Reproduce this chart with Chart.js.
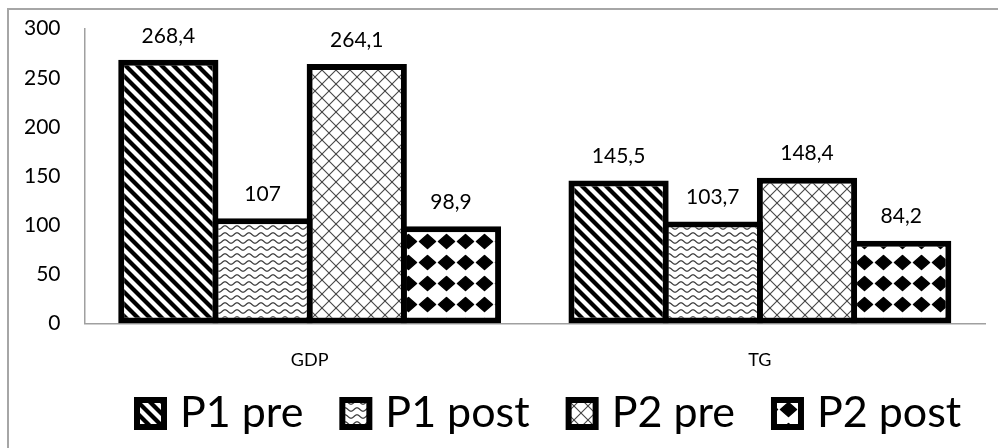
<!DOCTYPE html>
<html>
<head>
<meta charset="utf-8">
<script src="https://cdn.jsdelivr.net/npm/chart.js@4.4.0/dist/chart.umd.min.js"></script>
<style>
  html, body { margin: 0; padding: 0; background: #fff; }
  canvas { display: block; }
</style>
</head>
<body>
<canvas id="chart" width="998" height="448"></canvas>
<script>
// Categories, series and axis ticks
const categories = ['GDP', 'TG'];
const seriesNames = ['P1 pre', 'P1 post', 'P2 pre', 'P2 post'];
const p1Pre  = [268.4, 145.5];
const p1Post = [107, 103.7];
const p2Pre  = [264.1, 148.4];
const p2Post = [98.9, 84.2];
const yTicks = [0, 50, 100, 150, 200, 250, 300];

const FONT = 'Lato, "Open Sans", sans-serif';

// Monochrome fill patterns built from small repeating tiles
function makePattern(w, h, paint) {
  const tile = document.createElement('canvas');
  tile.width = w; tile.height = h;
  const g = tile.getContext('2d');
  g.fillStyle = '#fff';
  g.fillRect(0, 0, w, h);
  paint(g, w, h);
  return document.createElement('canvas').getContext('2d').createPattern(tile, 'repeat');
}

const stripeFill = makePattern(12, 12, (g, w, h) => {
  g.strokeStyle = '#000';
  g.lineWidth = 4.2;
  for (let k = -1; k <= 1; k++) {
    g.beginPath();
    g.moveTo(k * w - 2, -2);
    g.lineTo(k * w + w + 2, h + 2);
    g.stroke();
  }
});

const waveFill = makePattern(12, 7, (g, w, h) => {
  g.strokeStyle = '#333';
  g.lineWidth = 1.2;
  g.beginPath();
  for (let x = -1; x <= w + 1; x += 0.5) {
    const y = h / 2 + 1.7 * Math.sin(2 * Math.PI * x / w);
    if (x === -1) g.moveTo(x, y); else g.lineTo(x, y);
  }
  g.stroke();
});

const latticeFill = makePattern(14, 14, (g, w, h) => {
  g.strokeStyle = '#444';
  g.lineWidth = 1.1;
  for (let k = -1; k <= 1; k++) {
    g.beginPath();
    g.moveTo(k * w - 2, -2);
    g.lineTo(k * w + w + 2, h + 2);
    g.stroke();
    g.beginPath();
    g.moveTo(k * w - 2, h + 2);
    g.lineTo(k * w + w + 2, -2);
    g.stroke();
  }
});

const diamondFill = makePattern(19, 21, (g, w, h) => {
  g.fillStyle = '#000';
  g.strokeStyle = '#000';
  g.lineJoin = 'round';
  g.lineWidth = 1.5;
  g.beginPath();
  g.moveTo(w / 2, h / 2 - 7);
  g.lineTo(w / 2 + 8, h / 2);
  g.lineTo(w / 2, h / 2 + 7);
  g.lineTo(w / 2 - 8, h / 2);
  g.closePath();
  g.fill();
  g.stroke();
});

const fills = [stripeFill, waveFill, latticeFill, diamondFill];
const seriesValues = [p1Pre, p1Post, p2Pre, p2Post];

// Grey frame along the top and left edges
const frameLines = {
  id: 'frameLines',
  beforeDraw(chart) {
    const ctx = chart.ctx;
    ctx.save();
    ctx.strokeStyle = '#a6a6a6';
    ctx.lineWidth = 2;
    ctx.beginPath();
    ctx.moveTo(8, chart.height);
    ctx.lineTo(8, 9);
    ctx.lineTo(chart.width, 9);
    ctx.stroke();
    ctx.restore();
  }
};

// Value above each bar, with a decimal comma
const valueLabels = {
  id: 'valueLabels',
  afterDatasetsDraw(chart) {
    const ctx = chart.ctx;
    ctx.save();
    ctx.font = '21px ' + FONT;
    ctx.fillStyle = '#000';
    ctx.textAlign = 'center';
    ctx.textBaseline = 'middle';
    chart.data.datasets.forEach((ds, i) => {
      chart.getDatasetMeta(i).data.forEach((bar, j) => {
        ctx.fillText(String(ds.data[j]).replace('.', ','), bar.x, bar.y - 24);
      });
    });
    ctx.restore();
  }
};

// Legend row under the axis: framed swatch followed by the series name
const legendRow = {
  id: 'legendRow',
  afterDraw(chart) {
    const ctx = chart.ctx;
    const size = 33, top = 397, gap = 13, spacing = 36;
    let x = 134;
    ctx.save();
    ctx.font = '43px ' + FONT;
    ctx.textAlign = 'left';
    ctx.textBaseline = 'alphabetic';
    chart.data.datasets.forEach(ds => {
      ctx.fillStyle = '#000';
      ctx.fillRect(x, top, size, size);
      ctx.fillStyle = ds.backgroundColor;
      ctx.fillRect(x + 6, top + 6, size - 12, size - 12);
      ctx.fillStyle = '#000';
      ctx.fillText(ds.label, x + size + gap, 427);
      x += size + gap + ctx.measureText(ds.label).width + spacing;
    });
    ctx.restore();
  }
};

new Chart(document.getElementById('chart'), {
  type: 'bar',
  data: {
    labels: categories,
    datasets: seriesNames.map((name, i) => ({
      label: name,
      data: seriesValues[i],
      backgroundColor: fills[i],
      borderColor: '#000',
      borderWidth: 6,
      borderSkipped: false,
      categoryPercentage: 0.837,
      barPercentage: 1.0638
    }))
  },
  options: {
    responsive: false,
    animation: false,
    devicePixelRatio: 1,
    layout: { padding: { left: 0, right: 13, top: 20, bottom: 51 } },
    plugins: {
      legend: { display: false },
      tooltip: { enabled: false }
    },
    scales: {
      x: {
        grid: { display: false, drawTicks: false },
        border: { color: '#a0a0a0', width: 1.5 },
        ticks: { font: { family: FONT, size: 18 }, color: '#000', padding: 26 }
      },
      y: {
        min: 0,
        max: 300,
        afterBuildTicks: scale => { scale.ticks = yTicks.map(v => ({ value: v })); },
        grid: { display: false, drawTicks: false },
        border: { color: '#a0a0a0', width: 1.5 },
        ticks: { font: { family: FONT, size: 21, lineHeight: 0.45 }, color: '#000', padding: 24 }
      }
    }
  },
  plugins: [frameLines, valueLabels, legendRow]
});
</script>
</body>
</html>
